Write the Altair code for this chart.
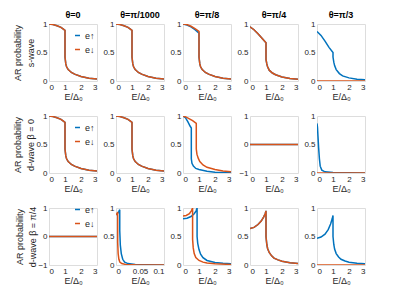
import altair as alt
import pandas as pd

FONT = "Liberation Sans"
BLUE = "#0072BD"
ORANGE = "#D95319"
SERIES = ["e↑", "e↓"]

col_titles = ["θ=0", "θ=π/1000", "θ=π/8", "θ=π/4", "θ=π/3"]
row_titles = [["AR probability", "s-wave"],
              ["AR probability", "d-wave β = 0"],
              ["AR probability", "d-wave β = π/4"]]
x_ticks_main = [0, 1, 2, 3]
x_ticks_small = [0, 0.05, 0.1]
y_ticks_unit = [0, 0.5, 1]
y_ticks_sym = [-1, 0, 1]

# ---- flat zero curves
zero_E = [0, 3]
zero_P = [0, 0]

# ---- row 1: s-wave
s0_E = [0, 0.25, 0.5, 0.75, 0.9, 1.0, 1.0, 1.05, 1.1, 1.2, 1.4, 1.6, 2.0, 2.5, 3.0]
s0_P = [1.0, 0.99, 0.97, 0.94, 0.91, 0.89, 0.42, 0.3, 0.25, 0.2, 0.15, 0.12, 0.08, 0.05, 0.035]

s8_up_E = [0, 0.25, 0.5, 0.75, 1.0, 1.0, 1.05, 1.1, 1.2, 1.4, 1.6, 2.0, 2.5, 3.0]
s8_up_P = [1.0, 0.98, 0.95, 0.9, 0.84, 0.42, 0.3, 0.25, 0.2, 0.15, 0.12, 0.08, 0.05, 0.035]
s8_dn_E = [0, 0.25, 0.5, 0.75, 1.0, 1.0, 1.05, 1.1, 1.2, 1.4, 1.6, 2.0, 2.5, 3.0]
s8_dn_P = [1.0, 0.99, 0.96, 0.92, 0.87, 0.42, 0.3, 0.25, 0.2, 0.15, 0.12, 0.08, 0.05, 0.035]

s4_E = [0, 0.25, 0.5, 0.75, 1.0, 1.0, 1.05, 1.1, 1.2, 1.4, 1.6, 2.0, 2.5, 3.0]
s4_P = [0.95, 0.9, 0.83, 0.75, 0.67, 0.38, 0.3, 0.25, 0.19, 0.14, 0.11, 0.07, 0.045, 0.03]

s3_up_E = [0, 0.25, 0.5, 0.75, 1.0, 1.0, 1.05, 1.1, 1.2, 1.4, 1.6, 2.0, 2.5, 3.0]
s3_up_P = [0.87, 0.8, 0.7, 0.59, 0.5, 0.42, 0.33, 0.27, 0.2, 0.13, 0.09, 0.055, 0.03, 0.02]

# ---- row 2: d-wave beta = 0
d8_up_E = [0, 0.15, 0.3, 0.45, 0.52, 0.52, 0.56, 0.65, 0.8, 1.0, 1.5, 2.0, 3.0]
d8_up_P = [1.0, 0.97, 0.9, 0.82, 0.79, 0.25, 0.17, 0.12, 0.08, 0.06, 0.03, 0.015, 0.005]
d8_dn_E = [0, 0.2, 0.4, 0.6, 0.83, 0.83, 0.87, 0.95, 1.05, 1.25, 1.5, 2.0, 2.5, 3.0]
d8_dn_P = [1.0, 0.98, 0.95, 0.92, 0.87, 0.42, 0.33, 0.26, 0.2, 0.14, 0.1, 0.06, 0.035, 0.02]

d3_up_E = [0, 0.03, 0.06, 0.1, 0.15, 0.2, 0.3, 0.5, 1.0, 2.0, 3.0]
d3_up_P = [0.87, 0.8, 0.65, 0.45, 0.25, 0.12, 0.05, 0.02, 0.008, 0.003, 0.001]

# ---- row 3: d-wave beta = pi/4
p1000_up_E = [0, 0.003, 0.006, 0.0078, 0.0078, 0.009, 0.011, 0.014, 0.018, 0.025, 0.04, 0.06, 0.1]
p1000_up_P = [0.88, 0.9, 0.94, 0.97, 0.6, 0.35, 0.2, 0.1, 0.05, 0.025, 0.01, 0.005, 0.002]
p1000_dn_E = [0, 0.002, 0.0035, 0.0035, 0.0045, 0.006, 0.008, 0.012, 0.02, 0.04, 0.1]
p1000_dn_P = [0.88, 0.9, 0.93, 0.4, 0.2, 0.1, 0.05, 0.025, 0.01, 0.004, 0.001]

p8_up_E = [0, 0.25, 0.5, 0.7, 0.82, 0.88, 0.88, 0.92, 1.0, 1.1, 1.25, 1.5, 2.0, 2.5, 3.0]
p8_up_P = [0.81, 0.82, 0.85, 0.9, 0.95, 1.0, 0.5, 0.38, 0.27, 0.19, 0.13, 0.08, 0.045, 0.03, 0.02]
p8_dn_E = [0, 0.2, 0.4, 0.52, 0.6, 0.6, 0.64, 0.7, 0.8, 1.0, 1.25, 1.5, 2.0, 3.0]
p8_dn_P = [0.86, 0.87, 0.9, 0.95, 1.0, 0.45, 0.3, 0.2, 0.13, 0.08, 0.05, 0.035, 0.02, 0.01]

p4_E = [0, 0.25, 0.5, 0.7, 0.85, 0.95, 1.0, 1.0, 1.05, 1.1, 1.2, 1.35, 1.5, 1.75, 2.0, 2.5, 3.0]
p4_P = [0.64, 0.66, 0.71, 0.77, 0.84, 0.9, 0.95, 0.5, 0.36, 0.29, 0.22, 0.16, 0.12, 0.09, 0.065, 0.04, 0.025]

p3_up_E = [0, 0.25, 0.5, 0.7, 0.85, 0.95, 1.0, 1.0, 1.05, 1.1, 1.2, 1.35, 1.5, 1.75, 2.0, 2.5, 3.0]
p3_up_P = [0.47, 0.49, 0.54, 0.62, 0.72, 0.81, 0.87, 0.5, 0.36, 0.28, 0.2, 0.14, 0.1, 0.07, 0.05, 0.03, 0.02]

# panels: (upE, upP, dnE, dnP, xdomain, xticks, ydomain, yticks)
panels = [
    [
        (s0_E, s0_P, s0_E, s0_P, [0, 3], x_ticks_main, [0, 1], y_ticks_unit),
        (s0_E, s0_P, s0_E, s0_P, [0, 3], x_ticks_main, [0, 1], y_ticks_unit),
        (s8_up_E, s8_up_P, s8_dn_E, s8_dn_P, [0, 3], x_ticks_main, [0, 1], y_ticks_unit),
        (s4_E, s4_P, s4_E, s4_P, [0, 3], x_ticks_main, [0, 1], y_ticks_unit),
        (s3_up_E, s3_up_P, zero_E, zero_P, [0, 3], x_ticks_main, [0, 1], y_ticks_unit),
    ],
    [
        (s0_E, s0_P, s0_E, s0_P, [0, 3], x_ticks_main, [0, 1], y_ticks_unit),
        (s0_E, s0_P, s0_E, s0_P, [0, 3], x_ticks_main, [0, 1], y_ticks_unit),
        (d8_up_E, d8_up_P, d8_dn_E, d8_dn_P, [0, 3], x_ticks_main, [0, 1], y_ticks_unit),
        (zero_E, zero_P, zero_E, zero_P, [0, 3], x_ticks_main, [-1, 1], y_ticks_sym),
        (d3_up_E, d3_up_P, zero_E, zero_P, [0, 3], x_ticks_main, [0, 1], y_ticks_unit),
    ],
    [
        (zero_E, zero_P, zero_E, zero_P, [0, 3], x_ticks_main, [-1, 1], y_ticks_sym),
        (p1000_up_E, p1000_up_P, p1000_dn_E, p1000_dn_P, [0, 0.1], x_ticks_small, [0, 1], y_ticks_unit),
        (p8_up_E, p8_up_P, p8_dn_E, p8_dn_P, [0, 3], x_ticks_main, [0, 1], y_ticks_unit),
        (p4_E, p4_P, p4_E, p4_P, [0, 3], x_ticks_main, [0, 1], y_ticks_unit),
        (p3_up_E, p3_up_P, zero_E, zero_P, [0, 3], x_ticks_main, [0, 1], y_ticks_unit),
    ],
]
legend_y = [7, 7, -3]

AXIS_COMMON = dict(labelFont=FONT, titleFont=FONT, labelFontSize=8, titleFontSize=9,
                   labelColor="#262626", titleColor="#262626", titleFontWeight="normal",
                   domain=False, ticks=False, grid=False, labelPadding=2, format="~g")


def panel(r, c, upE, upP, dnE, dnP, xdom, xt, ydom, yt):
    recs = []
    for s, Es, Ps in ((SERIES[0], upE, upP), (SERIES[1], dnE, dnP)):
        for i, (e, p) in enumerate(zip(Es, Ps)):
            recs.append({"E": e, "P": p, "s": s, "i": i})
    df = pd.DataFrame(recs)
    if c == 0:
        legend = alt.Legend(title=None, orient="none", legendX=24, legendY=legend_y[r], padding=0,
                            symbolType="stroke", symbolStrokeWidth=1.5, symbolSize=25,
                            labelFont=FONT, labelFontSize=9, labelColor="#262626",
                            rowPadding=4, labelOffset=3)
    else:
        legend = None
    yaxis = alt.Axis(values=yt, title=row_titles[r] if c == 0 else None,
                     titlePadding=0, titleLineHeight=13, **AXIS_COMMON)
    xaxis = alt.Axis(values=xt, title="E/Δ₀", titlePadding=1, **AXIS_COMMON)
    ch = alt.Chart(df).mark_line(strokeWidth=1.5, clip=True).encode(
        x=alt.X("E:Q", scale=alt.Scale(domain=xdom, nice=False, zero=False), axis=xaxis),
        y=alt.Y("P:Q", scale=alt.Scale(domain=ydom, nice=False, zero=False), axis=yaxis),
        color=alt.Color("s:N", scale=alt.Scale(domain=SERIES, range=[BLUE, ORANGE]), legend=legend),
        order=alt.Order("i:Q"),
    ).properties(width=48, height=57)
    if r == 0:
        ch = ch.properties(title=alt.TitleParams(col_titles[c], font=FONT, fontSize=9,
                                                 fontWeight="bold", color="#000", offset=0))
    return ch


cells = [panel(r, c, *panels[r][c]) for r in range(3) for c in range(5)]

chart = alt.ConcatChart(concat=cells, columns=5, spacing={"row": 35, "column": 19}, bounds="flush")
chart = chart.resolve_scale(color="independent").resolve_legend(color="independent")
chart = chart.properties(padding={"left": 5, "top": 2, "right": 5, "bottom": 5}).configure_view(
    stroke="#6b6b6b", strokeWidth=1
).configure(background="white")

chart.save("out.html", embed_options={"renderer": "svg", "actions": False})
